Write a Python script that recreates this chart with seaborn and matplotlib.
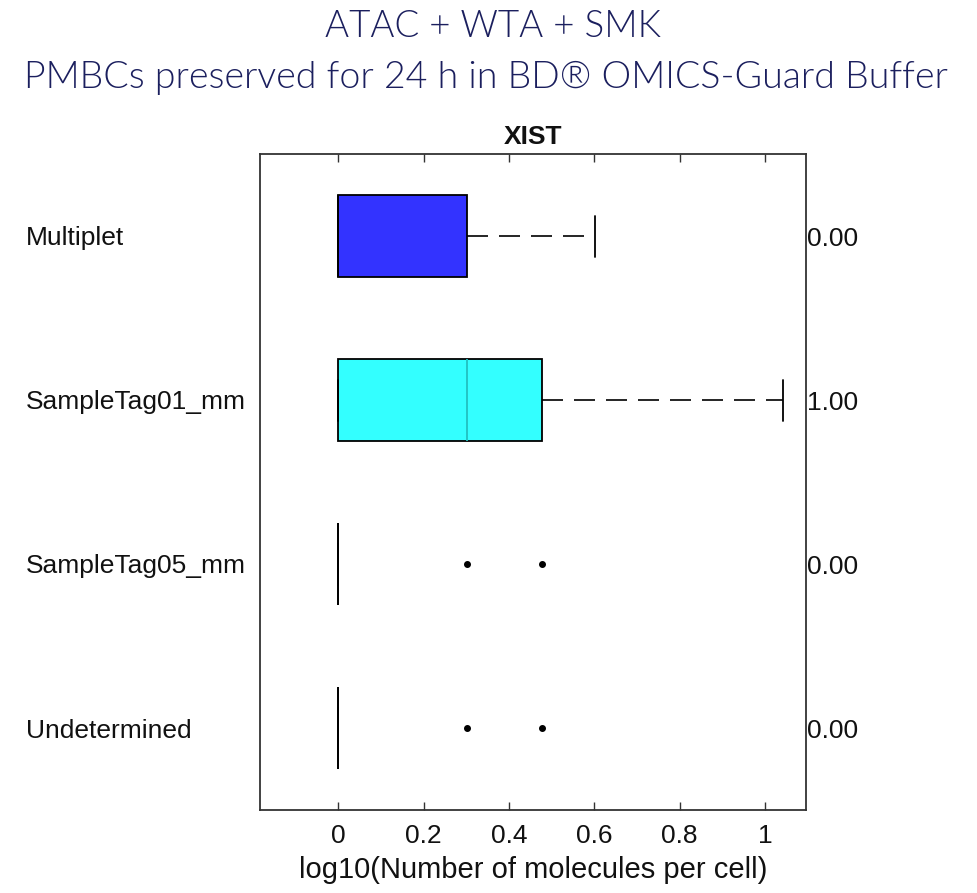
import numpy as np
import pandas as pd
import matplotlib
matplotlib.use("Agg")
import matplotlib.pyplot as plt
import matplotlib.transforms as mtransforms
import seaborn as sns

# Per-cell log10 molecule counts of XIST for each sample tag group
groups = ["Multiplet", "SampleTag01_mm", "SampleTag05_mm", "Undetermined"]
multiplet_vals = [0.0, 0.0, 0.0, 0.0, 0.301, 0.301, 0.602]
tag01_vals = [0.0, 0.0, 0.0, 0.301, 0.301, 0.477, 0.477, 0.477, 1.041]
tag05_vals = [0.0] * 20 + [0.301, 0.477]
undetermined_vals = [0.0] * 20 + [0.301, 0.477]
right_labels = ["0.00", "1.00", "0.00", "0.00"]
box_colors = ["#3333FF", "#33FFFF", "#FFFFFF", "#FFFFFF"]
x_ticks = [0, 0.2, 0.4, 0.6, 0.8, 1]
x_tick_labels = ["0", "0.2", "0.4", "0.6", "0.8", "1"]

values_by_group = [multiplet_vals, tag01_vals, tag05_vals, undetermined_vals]
df = pd.DataFrame({
    "group": np.repeat(groups, [len(v) for v in values_by_group]),
    "value": np.concatenate(values_by_group),
})

sns.set_theme(style="white")
plt.rcParams["font.family"] = ["Liberation Sans", "DejaVu Sans"]

fig = plt.figure(figsize=(9.77, 8.93), dpi=100)
ax = fig.add_axes([260 / 977, 1 - 810 / 893, 546 / 977, 656 / 893])

sns.boxplot(
    data=df, x="value", y="group", order=groups, orient="h",
    hue="group", hue_order=groups, palette=box_colors, legend=False,
    saturation=1, width=0.5, whis=1.5, linecolor="black", linewidth=1.3,
    whiskerprops=dict(linestyle=(0, (12.6, 6.6)), linewidth=1.2),
    capprops=dict(linewidth=1.3),
    medianprops=dict(linewidth=1.3),
    flierprops=dict(marker="o", markersize=4, markerfacecolor="black",
                    markeredgecolor="black"),
    ax=ax,
)

# Median of SampleTag01_mm sits inside the fill: draw it in teal
tag01_median = float(np.median(tag01_vals))
for ln in ax.lines:
    xd = np.asarray(ln.get_xdata(), dtype=float)
    yd = np.asarray(ln.get_ydata(), dtype=float)
    if len(xd) == 2 and np.allclose(xd, tag01_median) and np.allclose(yd.mean(), 1.0):
        ln.set_color("#22C0C0")

ax.set_xlim(-0.183, 1.096)
ax.set_ylim(3.5, -0.5)
ax.set_xticks(x_ticks)
ax.set_xticklabels(x_tick_labels)
ax.tick_params(axis="x", which="both", direction="in", length=5.5, width=1,
               color="#333333", top=True, bottom=True, labelsize=19, pad=10,
               labelcolor="#111111")
ax.set_yticks(range(len(groups)))
ax.set_yticklabels(groups, ha="left")
ax.tick_params(axis="y", length=0, pad=168.5, labelsize=19, labelcolor="#111111")
ax.set_xlabel("log10(Number of molecules per cell)", fontsize=21, labelpad=6,
              color="#111111")
ax.set_ylabel("")
for sp in ax.spines.values():
    sp.set_visible(True)
    sp.set_color("#333333")
    sp.set_linewidth(1.3)

# Values printed just right of the frame
trans = mtransforms.blended_transform_factory(ax.transAxes, ax.transData)
for i, lab in enumerate(right_labels):
    ax.text(1.002, i, lab, transform=trans, ha="left", va="center_baseline",
            fontsize=19, color="#111111")

ax.set_title("XIST", fontsize=19, fontweight="bold", pad=7, color="#111111")

navy = "#1B1F5E"
fig.text(0.505, 1 - 27 / 893, "ATAC + WTA + SMK", ha="center", va="center",
         fontsize=26.5, color=navy, fontweight=300,
         family=["Lato", "DejaVu Sans"])
fig.text(0.497, 1 - 78 / 893,
         "PMBCs preserved for 24 h in BD\u00ae OMICS-Guard Buffer",
         ha="center", va="center", fontsize=27, color=navy,
         fontweight=300, family=["Lato", "DejaVu Sans"])

fig.savefig("out.png", dpi=100)
